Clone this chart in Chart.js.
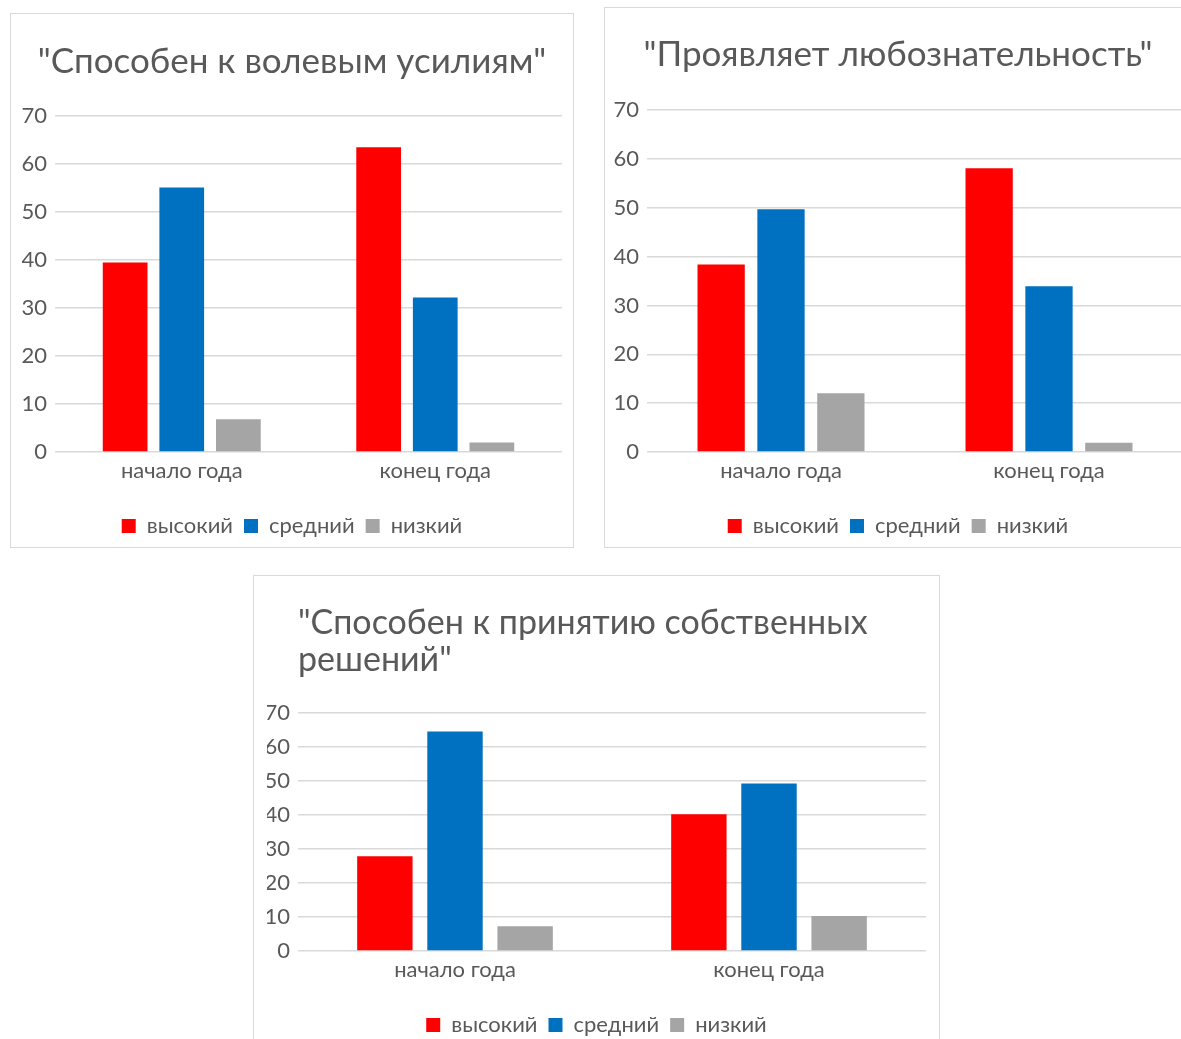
<!DOCTYPE html>
<html lang="ru">
<head>
<meta charset="utf-8">
<script src="https://cdn.jsdelivr.net/npm/chart.js@4.4.1/dist/chart.umd.min.js"></script>
<style>
  html, body { margin: 0; padding: 0; background: #fff; width: 1181px; height: 1039px; overflow: hidden; }
  .box { position: absolute; border: 1px solid #d9d9d9; background: #fff; }
  .box canvas { position: absolute; left: 0; top: 0; }
</style>
</head>
<body>
<div class="box" style="left:10px; top:13px; width:562px; height:533px;">
  <canvas id="c1" width="562" height="533"></canvas>
</div>
<div class="box" style="left:604px; top:7px; width:586px; height:539px;">
  <canvas id="c2" width="586" height="539"></canvas>
</div>
<div class="box" style="left:253px; top:575px; width:685px; height:480px;">
  <canvas id="c3" width="685" height="470"></canvas>
</div>
<script>
// общие подписи
const categories = ['начало года', 'конец года'];
const seriesNames = ['высокий', 'средний', 'низкий'];
const seriesColors = ['#ff0000', '#0070c0', '#a5a5a5'];
const yTicks = [0, 10, 20, 30, 40, 50, 60, 70];

// "Способен к волевым усилиям"
const title1 = '"Способен к волевым усилиям"';
const high1 = [39.5, 63.5];
const mid1 = [55.1, 32.2];
const low1 = [6.8, 2.0];

// "Проявляет любознательность"
const title2 = '"Проявляет любознательность"';
const high2 = [38.4, 58.1];
const mid2 = [49.7, 33.9];
const low2 = [12.0, 1.9];

// "Способен к принятию собственных решений"
const title3 = ['"Способен к принятию собственных', 'решений"'];
const high3 = [27.9, 40.2];
const mid3 = [64.6, 49.3];
const low3 = [7.3, 10.3];

Chart.defaults.font.family = "Lato, Carlito, 'Open Sans', sans-serif";
Chart.defaults.color = '#595959';

function makeChart(id, title, values, cfg) {
    const ctx = document.getElementById(id);
    if (!ctx) {
        console.error('canvas not found: ' + id);
        return;
    }
    new Chart(ctx, {
        type: 'bar',
        data: {
            labels: categories,
            datasets: values.map((v, i) => ({
                label: seriesNames[i],
                data: v,
                backgroundColor: seriesColors[i],
                borderWidth: 0,
                categoryPercentage: 0.67,
                barPercentage: 0.79
            }))
        },
        options: {
            responsive: false,
            animation: false,
            // одинаковые поля слева и справа, чтобы заголовок и легенда были по центру рамки
            layout: { padding: { left: cfg.pad, right: cfg.pad, top: 0, bottom: 0 } },
            plugins: {
                tooltip: { enabled: false },
                title: {
                    display: true,
                    text: title,
                    align: cfg.titleAlign,
                    fullSize: cfg.titleAlign !== 'start',
                    color: '#595959',
                    font: { size: cfg.titleSize, weight: 'normal', lineHeight: cfg.titleLH },
                    padding: { top: cfg.titleTop, bottom: cfg.titleBottom }
                },
                legend: {
                    position: 'bottom',
                    labels: {
                        boxWidth: 14,
                        boxHeight: 14,
                        padding: 11,
                        color: '#595959',
                        font: { size: 22 }
                    }
                }
            },
            scales: {
                x: {
                    grid: { display: false, drawTicks: false },
                    border: { display: false },
                    ticks: { padding: 6, font: { size: 22 }, color: '#595959' },
                    afterFit: s => { s.height = 52; }
                },
                y: {
                    min: 0,
                    max: 70,
                    afterBuildTicks: s => { s.ticks = yTicks.map(v => ({ value: v })); },
                    grid: { color: '#d9d9d9', lineWidth: 1.5, drawTicks: false },
                    border: { display: false },
                    ticks: { padding: 8, font: { size: 22 }, color: '#595959' },
                    afterFit: s => { s.width = cfg.plotLeft - cfg.pad; }
                }
            }
        }
    });
}

makeChart('c1', title1, [high1, mid1, low1],
    { pad: 11, plotLeft: 44, titleSize: 35, titleLH: 1.2, titleTop: 27, titleBottom: 33, titleAlign: 'center' });
makeChart('c2', title2, [high2, mid2, low2],
    { pad: 8, plotLeft: 42, titleSize: 35, titleLH: 1.2, titleTop: 26, titleBottom: 34, titleAlign: 'center' });
makeChart('c3', title3, [high3, mid3, low3],
    { pad: 13, plotLeft: 44, titleSize: 34, titleLH: 1.09, titleTop: 28.5, titleBottom: 34.4, titleAlign: 'start' });
</script>
</body>
</html>
